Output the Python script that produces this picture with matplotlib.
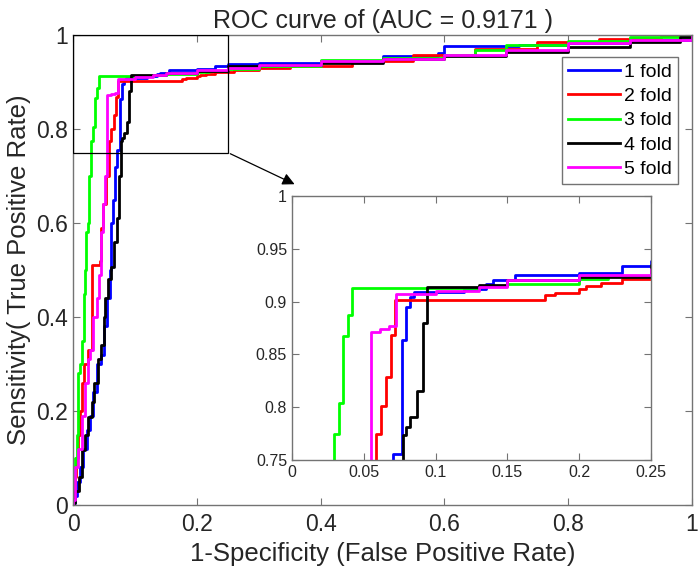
import matplotlib
matplotlib.use("Agg")
import matplotlib.pyplot as plt
from matplotlib.patches import Rectangle
from matplotlib.ticker import FormatStrFormatter

plt.rcParams["font.family"] = ["Liberation Sans", "DejaVu Sans"]

# ROC vertices per fold: at fpr x the tpr rises to y (step curve)
fold1_fpr = [0, 0.003, 0.006, 0.011, 0.0167, 0.022, 0.028, 0.033, 0.038, 0.046, 0.05, 0.055, 0.06,
             0.062, 0.064, 0.068, 0.0703, 0.0766, 0.0796, 0.0824, 0.085, 0.12, 0.135, 0.14, 0.155,
             0.2, 0.23, 0.25, 0.3, 0.4, 0.5, 0.59, 0.6, 0.72, 0.8, 0.9, 1]
fold1_tpr = [0.005, 0.02, 0.05, 0.08, 0.12, 0.16, 0.19, 0.24, 0.3, 0.32, 0.38, 0.44, 0.5,
             0.6, 0.65, 0.72, 0.756, 0.864, 0.895, 0.9047, 0.9095, 0.912, 0.917, 0.92, 0.925,
             0.927, 0.934, 0.938, 0.94, 0.945, 0.955, 0.962, 0.976, 0.978, 0.982, 0.99, 1]

fold2_fpr = [0, 0.003, 0.005, 0.0075, 0.011, 0.014, 0.018, 0.024, 0.031, 0.044, 0.046, 0.049,
             0.053, 0.0587, 0.062, 0.0657, 0.069, 0.072, 0.176, 0.183, 0.2, 0.205, 0.215, 0.23,
             0.26, 0.3, 0.35, 0.45, 0.55, 0.65, 0.75, 0.85, 0.95, 1]
fold2_tpr = [0.02, 0.06, 0.1, 0.15, 0.2, 0.26, 0.3, 0.33, 0.51, 0.52, 0.59, 0.64,
             0.7, 0.775, 0.801, 0.829, 0.868, 0.9015, 0.906, 0.908, 0.912, 0.915, 0.918, 0.921,
             0.925, 0.93, 0.935, 0.945, 0.958, 0.97, 0.985, 0.992, 0.997, 1]

fold3_fpr = [0, 0.003, 0.006, 0.008, 0.011, 0.014, 0.017, 0.019, 0.021, 0.024, 0.0265, 0.0295,
             0.0325, 0.0355, 0.0388, 0.042, 0.13, 0.15, 0.2, 0.22, 0.25, 0.3, 0.4, 0.5, 0.6,
             0.65, 0.7, 0.8, 0.9, 1]
fold3_tpr = [0.02, 0.1, 0.15, 0.28, 0.3, 0.35, 0.45, 0.5, 0.58, 0.6, 0.7, 0.775,
             0.804, 0.867, 0.887, 0.9126, 0.915, 0.917, 0.921, 0.924, 0.927, 0.935, 0.946, 0.952, 0.958,
             0.968, 0.978, 0.988, 0.995, 1]

fold4_fpr = [0, 0.004, 0.009, 0.0145, 0.02, 0.025, 0.03, 0.0334, 0.04, 0.046, 0.05, 0.052, 0.057,
             0.061, 0.066, 0.071, 0.074, 0.0773, 0.0796, 0.082, 0.087, 0.0912, 0.094, 0.13, 0.15,
             0.2, 0.25, 0.3, 0.4, 0.5, 0.6, 0.7, 0.8, 0.9, 0.98, 1]
fold4_tpr = [0.005, 0.03, 0.06, 0.117, 0.15, 0.187, 0.22, 0.26, 0.31, 0.34, 0.4, 0.44, 0.48,
             0.507, 0.56, 0.61, 0.7, 0.7737, 0.7816, 0.791, 0.8157, 0.88, 0.914, 0.916, 0.92,
             0.9236, 0.9346, 0.937, 0.94, 0.948, 0.955, 0.963, 0.975, 0.985, 0.995, 1]

fold5_fpr = [0, 0.003, 0.008, 0.015, 0.019, 0.024, 0.027, 0.033, 0.038, 0.042, 0.046, 0.048,
             0.052, 0.0552, 0.0615, 0.0673, 0.0727, 0.1, 0.13, 0.15, 0.2, 0.25, 0.3, 0.4, 0.5,
             0.6, 0.7, 0.8, 0.9, 1]
fold5_tpr = [0.01, 0.08, 0.12, 0.19, 0.26, 0.31, 0.33, 0.4, 0.44, 0.49, 0.58, 0.64,
             0.7, 0.8715, 0.874, 0.877, 0.907, 0.91, 0.914, 0.92, 0.925, 0.9305, 0.937, 0.944, 0.95,
             0.958, 0.968, 0.982, 0.99, 1]

labels = ["1 fold", "2 fold", "3 fold", "4 fold", "5 fold"]
colors = ["#0000ff", "#ff0000", "#00ff00", "#000000", "#ff00ff"]
curves = [(fold1_fpr, fold1_tpr), (fold2_fpr, fold2_tpr), (fold3_fpr, fold3_tpr),
          (fold4_fpr, fold4_tpr), (fold5_fpr, fold5_tpr)]
auc = 0.9171

spine_col = "0.45"
text_col = "#262626"


def style_axes(ax, fs):
    for s in ax.spines.values():
        s.set_color(spine_col)
        s.set_linewidth(1.0)
    ax.tick_params(direction="in", top=True, right=True, length=5,
                   color=spine_col, labelsize=fs, labelcolor=text_col)
    ax.xaxis.set_major_formatter(FormatStrFormatter("%g"))
    ax.yaxis.set_major_formatter(FormatStrFormatter("%g"))


fig = plt.figure(figsize=(7.0, 5.79), dpi=100)
ax = fig.add_axes([0.1043, 0.1278, 0.8843, 0.8117])

for (fx, ty), c, lab in zip(curves, colors, labels):
    ax.step([0] + fx, [0] + ty, where="post", color=c, lw=2, label=lab)

ax.set_xlim(0, 1)
ax.set_ylim(0, 1)
ax.set_xticks([0, 0.2, 0.4, 0.6, 0.8, 1])
ax.set_yticks([0, 0.2, 0.4, 0.6, 0.8, 1])
style_axes(ax, 16.5)
ax.tick_params(axis="x", pad=6)
ax.set_xlabel("1-Specificity (False Positive Rate)", fontsize=18.5, color=text_col, labelpad=4)
ax.set_ylabel("Sensitivity( True Positive Rate)", fontsize=18.5, color=text_col, labelpad=4)
ax.set_title(f"ROC curve of (AUC = {auc} )", fontsize=18, color=text_col, pad=5)

ax.add_patch(Rectangle((0, 0.75), 0.25, 0.25, fill=False, ec="black", lw=0.9, zorder=5))
ax.annotate("", xy=(0.362, 0.68), xytext=(0.25, 0.75),
            arrowprops=dict(arrowstyle="-|>", color="black", lw=0.9, mutation_scale=18),
            zorder=5)

ax.legend(loc="upper right", bbox_to_anchor=(0.977, 0.953), fontsize=14,
          frameon=True, fancybox=False, edgecolor=spine_col, framealpha=1,
          handlelength=2.7, handletextpad=0.2, labelspacing=0.35, borderpad=0.3,
          borderaxespad=0)

ins = fig.add_axes([0.4171, 0.2055, 0.5129, 0.456])
for (fx, ty), c in zip(curves, colors):
    ins.step([0] + fx, [0] + ty, where="post", color=c, lw=2)
ins.set_xlim(0, 0.25)
ins.set_ylim(0.75, 1)
ins.set_xticks([0, 0.05, 0.1, 0.15, 0.2, 0.25])
ins.set_yticks([0.75, 0.8, 0.85, 0.9, 0.95, 1])
style_axes(ins, 11.5)

fig.savefig("out.png", dpi=100)
